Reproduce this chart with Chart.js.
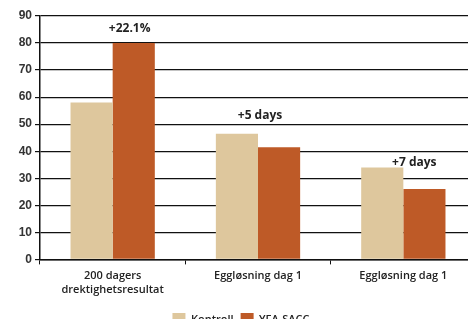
<!DOCTYPE html>
<html>
<head>
<meta charset="utf-8">
<script src="https://cdn.jsdelivr.net/npm/chart.js@4"></script>
<style>
  html, body { margin: 0; padding: 0; background: #fff; overflow: hidden; }
  body { width: 468px; height: 319px; }
  #wrap { width: 476px; height: 336px; }
</style>
</head>
<body>
<div id="wrap"><canvas id="chart"></canvas></div>
<script>
// Chart data
const categories = [["200 dagers", "drektighetsresultat"], "Eggløsning dag 1", "Eggløsning dag 1"];
const kontroll = [58, 46.5, 34];
const yfaSacc = [80, 41.5, 26];

// Difference labels above each group
const diffLabels = ["+22.1%", "+5 days", "+7 days"];
const diffLevels = [85.5, 53.2, 35.7];

const yTicks = [0, 10, 20, 30, 40, 50, 60, 70, 80, 90];

const diffPlugin = {
  id: "diffLabels",
  afterDatasetsDraw(chart) {
    const ctx = chart.ctx;
    const x = chart.scales.x;
    const y = chart.scales.y;
    const shift = [17, 2, 11];
    ctx.save();
    ctx.font = "bold 12px 'Open Sans'";
    ctx.fillStyle = "#222";
    ctx.textAlign = "center";
    ctx.textBaseline = "middle";
    diffLabels.forEach((txt, i) => {
      ctx.fillText(txt, x.getPixelForValue(i) + shift[i], y.getPixelForValue(diffLevels[i]));
    });
    ctx.restore();
  },
};

new Chart(document.getElementById("chart"), {
  type: "bar",
  data: {
    labels: categories,
    datasets: [
      { label: "Kontroll", data: kontroll, backgroundColor: "#DEC79D" },
      { label: "YFA-SACC", data: yfaSacc, backgroundColor: "#BE5A27" },
    ],
  },
  options: {
    responsive: true,
    maintainAspectRatio: false,
    animation: false,
    devicePixelRatio: 1,
    layout: { padding: { top: 16, left: 6, right: 0, bottom: 0 } },
    datasets: { bar: { categoryPercentage: 0.58, barPercentage: 1 } },
    plugins: {
      legend: {
        position: "bottom",
        labels: {
          boxWidth: 13,
          boxHeight: 13,
          padding: 7,
          color: "#222",
          font: { family: "'Open Sans'", size: 11, weight: "600" },
        },
      },
      tooltip: { enabled: false },
    },
    scales: {
      x: {
        afterFit: (s) => { s.height += 5; },
        grid: {
          offset: true,
          drawOnChartArea: false,
          drawTicks: true,
          tickLength: 5,
          color: "#111",
        },
        border: { color: "#111", width: 1.5 },
        ticks: {
          color: "#222",
          padding: 4,
          maxRotation: 0,
          font: { family: "'Open Sans'", size: 11, weight: "600", lineHeight: 1.3 },
        },
      },
      y: {
        min: 0,
        max: 90,
        afterBuildTicks: (s) => { s.ticks = yTicks.map((v) => ({ value: v })); },
        afterFit: (s) => { s.width = 34; },
        grid: { color: "#111", lineWidth: 1.2, tickLength: 5 },
        border: { color: "#111", width: 1.5 },
        ticks: {
          color: "#333",
          padding: 3,
          font: { family: "'Liberation Sans'", size: 12, weight: "bold" },
        },
      },
    },
  },
  plugins: [diffPlugin],
});
</script>
</body>
</html>
